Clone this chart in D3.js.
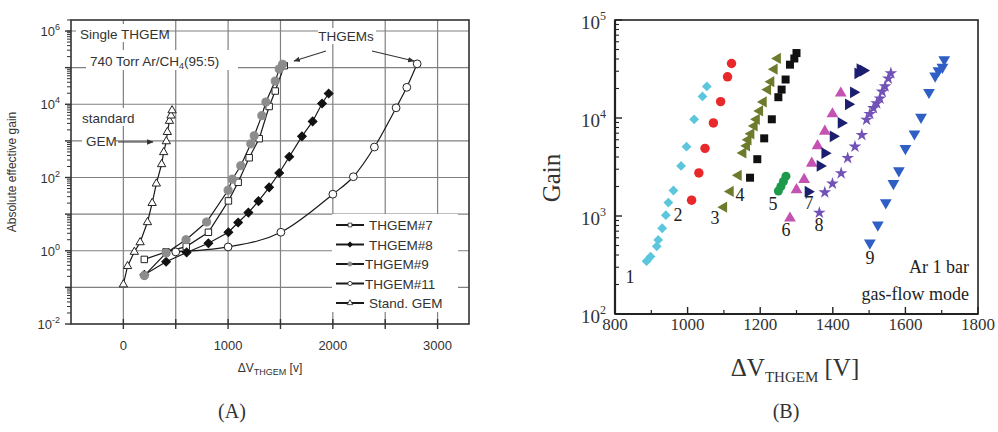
<!DOCTYPE html>
<html><head><meta charset="utf-8">
<script src="https://cdn.jsdelivr.net/npm/d3@7"></script>
<style>body{margin:0;background:#fff}svg{display:block}</style>
</head><body><svg id="c" width="998" height="432"></svg>
<script>
// ---------- Panel A data ----------
const aXTicks = [0, 1000, 2000, 3000];
const aYTickExps = [-2, 0, 2, 4, 6];
const thgem7 = [[200,0.58],[408,0.93],[600,1.3],[812,3.2],[1003,23],[1096,74],[1201,346],[1297,1150],[1392,8700],[1450,23000],[1536,113000]];
const thgem8 = [[200,0.22],[408,0.5],[604,0.9],[812,1.6],[1003,3.2],[1096,5.9],[1194,11],[1290,22.6],[1392,54],[1488,133],[1584,370],[1705,1330],[1807,3400],[1897,10500],[1960,19700]];
const thgem9 = [[200,0.21],[408,0.87],[598,2.0],[795,6.1],[1000,45],[1040,90],[1121,210],[1217,830],[1249,1380],[1322,4900],[1361,11500],[1450,43000],[1488,92000],[1520,124000]];
const thgem11 = [[500,0.93],[1000,1.27],[1504,3.2],[2000,35],[2196,105],[2397,680],[2604,8000],[2706,29000],[2805,127000]];
const stdGem = [[0,0.12],[40,0.38],[105,0.93],[160,1.7],[230,6],[275,20],[315,68],[365,230],[385,490],[410,970],[420,1740],[440,3500],[455,4900],[465,6800]];
const aLegend = ["THGEM#7","THGEM#8","THGEM#9","THGEM#11","Stand. GEM"];

// ---------- Panel B data ----------
const bXTicks = [800, 1000, 1200, 1400, 1600, 1800];
const bYTickExps = [2, 3, 4, 5];
const s1 = [[887,346],[898,385],[915,490],[919,570],[930,750],[940,1020],[947,1370],[961,1820],[982,3240],[997,5100],[1018,9700],[1041,16600],[1053,21000]];
const s2 = [[1011,1450],[1031,2750],[1048,4900],[1071,8900],[1091,14700],[1110,26300],[1121,36000]];
const s3 = [[1100,1230],[1118,1780],[1140,2600],[1153,4400],[1163,5200],[1167,6000],[1175,6900],[1184,8300],[1190,9700],[1199,11800],[1209,14600],[1221,19500],[1230,23500],[1239,31500],[1248,40500]];
const s4 = [[1172,2460],[1192,3800],[1211,6200],[1232,9700],[1250,16300],[1259,19500],[1270,24700],[1282,35000],[1294,40500],[1300,46000]];
const s5 = [[1250,1800],[1257,2000],[1264,2250],[1271,2550]];
const s6 = [[1282,950],[1300,1850],[1321,2350],[1342,3450],[1358,5200],[1378,7300],[1399,11000],[1422,17900]];
const s7 = [[1332,1770],[1365,3240],[1378,4380],[1401,6500],[1423,8900],[1443,13800],[1457,18300],[1469,28600],[1475,31500],[1484,30500]];
const s8 = [[1363,1080],[1378,1740],[1399,2140],[1423,2730],[1441,3900],[1461,5100],[1480,6700],[1493,9600],[1502,11000],[1512,12600],[1521,14100],[1530,15800],[1536,18600],[1544,21000],[1553,25300],[1560,28600]];
const s9 = [[1502,530],[1524,810],[1546,1370],[1567,2150],[1582,2900],[1600,4900],[1625,6900],[1643,10200],[1665,18300],[1682,26900],[1691,30500],[1702,33000],[1707,39500]];
const bSeriesLabels = ["1","2","3","4","5","6","7","8","9"];
const bColors = ["#5cc6dc","#e8282a","#6c7b2c","#111111","#1d9a4b","#c452b2","#1c1f70","#7352b8","#2f5ec4"];

const svg = d3.select("#c");
const sans = "'Liberation Sans', Arial, sans-serif";
const serif = "'Liberation Serif', 'Times New Roman', serif";

// ================= PANEL A =================
const ax = d3.scaleLinear().domain([-500, 3300]).range([71, 469]);
const ay = d3.scaleLog().domain([0.01, 2e6]).range([324, 20]);
const A = svg.append("g");

const gridV = d3.range(0, 3300, 500);
A.selectAll(".gv").data(gridV).join("line")
  .attr("x1", d => ax(d)).attr("x2", d => ax(d)).attr("y1", 20).attr("y2", 324)
  .attr("stroke", "#808080").attr("stroke-width", 1.2);
const gridH = d3.range(-1, 7).map(e => Math.pow(10, e));
A.selectAll(".gh").data(gridH).join("line")
  .attr("x1", 71).attr("x2", 469).attr("y1", d => ay(d)).attr("y2", d => ay(d))
  .attr("stroke", "#808080").attr("stroke-width", 1.2);

A.append("rect").attr("x", 71).attr("y", 20).attr("width", 398).attr("height", 304)
  .attr("fill", "none").attr("stroke", "#333").attr("stroke-width", 1.6);

const aMinor = [];
for (let e = -2; e < 6; e++) for (let k = 2; k <= 9; k++) aMinor.push(k * Math.pow(10, e));
for (let k = 1; k <= 2; k++) aMinor.push(k * 1e6);
A.selectAll(".ymin").data(aMinor).join("line")
  .attr("x1", 67).attr("x2", 71).attr("y1", d => ay(d)).attr("y2", d => ay(d))
  .attr("stroke", "#333").attr("stroke-width", 1);
A.selectAll(".ymaj").data(d3.range(-2, 7)).join("line")
  .attr("x1", 65).attr("x2", 71).attr("y1", d => ay(Math.pow(10, d))).attr("y2", d => ay(Math.pow(10, d)))
  .attr("stroke", "#333").attr("stroke-width", 1.4);
const aYL = A.selectAll(".ylab").data(aYTickExps).join("text")
  .attr("x", 60).attr("y", d => ay(Math.pow(10, d)) + 5)
  .attr("text-anchor", "end").attr("font-family", sans).attr("font-size", 13).attr("fill", "#333");
aYL.append("tspan").text("10");
aYL.append("tspan").attr("dy", -6).attr("font-size", 9).text(d => d);

A.selectAll(".xt").data(d3.range(0, 3300, 500)).join("line")
  .attr("x1", d => ax(d)).attr("x2", d => ax(d)).attr("y1", 319).attr("y2", 329)
  .attr("stroke", "#333").attr("stroke-width", 1.4);
A.selectAll(".xl").data(aXTicks).join("text")
  .attr("x", d => ax(d)).attr("y", 350).attr("text-anchor", "middle")
  .attr("font-family", sans).attr("font-size", 13).attr("fill", "#333").text(d => d);

const axT = A.append("text").attr("x", 270).attr("y", 372).attr("text-anchor", "middle")
  .attr("font-family", sans).attr("font-size", 12).attr("fill", "#333");
axT.append("tspan").text("ΔV");
axT.append("tspan").attr("dy", 3).attr("font-size", 9).text("THGEM");
axT.append("tspan").attr("dy", -3).text(" [v]");
A.append("text").attr("transform", "translate(16,172) rotate(-90)").attr("text-anchor", "middle")
  .attr("font-family", sans).attr("font-size", 12).attr("fill", "#333").text("Absolute effective gain");

function bgText(g, x, y, w, h) {
  g.append("rect").attr("x", x).attr("y", y).attr("width", w).attr("height", h).attr("fill", "#fff");
}
bgText(A, 76, 24, 84, 18);
bgText(A, 86, 50, 152, 20);
bgText(A, 78, 108, 58, 18);
bgText(A, 82, 132, 34, 18);
bgText(A, 318, 28, 58, 16);
A.append("text").attr("x", 80).attr("y", 39).attr("font-family", sans).attr("font-size", 13.5).attr("fill", "#333").text("Single THGEM");
const t740 = A.append("text").attr("x", 90).attr("y", 66).attr("font-family", sans).attr("font-size", 13.5).attr("fill", "#333");
t740.append("tspan").text("740 Torr Ar/CH");
t740.append("tspan").attr("dy", 3).attr("font-size", 9).text("4");
t740.append("tspan").attr("dy", -3).text("(95:5)");
A.append("text").attr("x", 82).attr("y", 123).attr("font-family", sans).attr("font-size", 13.5).attr("fill", "#333").text("standard");
A.append("text").attr("x", 86).attr("y", 146).attr("font-family", sans).attr("font-size", 13.5).attr("fill", "#333").text("GEM");
A.append("text").attr("x", 346).attr("y", 41).attr("text-anchor", "middle").attr("font-family", sans).attr("font-size", 13.5).attr("fill", "#333").text("THGEMs");

const defs = svg.append("defs");
defs.append("marker").attr("id", "ah").attr("viewBox", "0 0 10 10").attr("refX", 9).attr("refY", 5)
  .attr("markerWidth", 6).attr("markerHeight", 6).attr("orient", "auto")
  .append("path").attr("d", "M0,1 L10,5 L0,9 Z").attr("fill", "#333");
function arrow(x1, y1, x2, y2) {
  A.append("line").attr("x1", x1).attr("y1", y1).attr("x2", x2).attr("y2", y2)
    .attr("stroke", "#333").attr("stroke-width", 1.1).attr("marker-end", "url(#ah)");
}
arrow(118, 142, 153, 142);
arrow(326, 51, 294, 61);
arrow(372, 51, 414, 61);

const aLine = d3.line().x(d => ax(d[0])).y(d => ay(d[1]));
const aCurve = d3.line().x(d => ax(d[0])).y(d => ay(d[1])).curve(d3.curveMonotoneX);
const aSeries = [
  {data: thgem7, sym: d3.symbolSquare, size: 42, rot: 0, fill: "#fff", stroke: "#222", curve: aLine},
  {data: thgem11, sym: d3.symbolCircle, size: 48, rot: 0, fill: "#fff", stroke: "#222", curve: aCurve},
  {data: thgem8, sym: d3.symbolSquare, size: 38, rot: 45, fill: "#111", stroke: "#111", curve: aLine},
  {data: thgem9, sym: d3.symbolCircle, size: 52, rot: 0, fill: "#8c8c8c", stroke: "#8c8c8c", curve: aLine},
  {data: stdGem, sym: d3.symbolTriangle, size: 30, rot: 0, fill: "#fff", stroke: "#222", curve: aLine}
];
aSeries.forEach(s => {
  A.append("path").attr("d", s.curve(s.data)).attr("fill", "none").attr("stroke", "#1a1a1a").attr("stroke-width", 1.2);
});
aSeries.forEach(s => {
  A.selectAll(null).data(s.data).join("path")
    .attr("transform", d => `translate(${ax(d[0])},${ay(d[1])}) rotate(${s.rot})`)
    .attr("d", d3.symbol().type(s.sym).size(s.size))
    .attr("fill", s.fill).attr("stroke", s.stroke).attr("stroke-width", 1);
});

A.append("rect").attr("x", 332).attr("y", 214).attr("width", 126).attr("height", 98).attr("fill", "#fff");
const legSym = [
  {sym: d3.symbolSquare, rot: 0, fill: "#fff", stroke: "#222"},
  {sym: d3.symbolSquare, rot: 45, fill: "#111", stroke: "#111"},
  {sym: d3.symbolCircle, rot: 0, fill: "#8c8c8c", stroke: "#8c8c8c"},
  {sym: d3.symbolCircle, rot: 0, fill: "#fff", stroke: "#222"},
  {sym: d3.symbolTriangle, rot: 0, fill: "#fff", stroke: "#222"}
];
const leg = A.selectAll(".leg").data(aLegend).join("g")
  .attr("transform", (d, i) => `translate(336,${225 + i * 19.5})`);
leg.append("line").attr("x1", 0).attr("x2", 28).attr("stroke", "#1a1a1a").attr("stroke-width", 2);
leg.append("path").attr("transform", (d, i) => `translate(14,0) rotate(${legSym[i].rot})`)
  .attr("d", (d, i) => d3.symbol().type(legSym[i].sym).size(14)())
  .attr("fill", (d, i) => legSym[i].fill).attr("stroke", (d, i) => legSym[i].stroke).attr("stroke-width", 0.8);
leg.append("text").attr("x", (d, i) => (i === 2 || i === 3) ? 29 : 33).attr("y", 5)
  .attr("font-family", sans).attr("font-size", 13.5).attr("fill", "#333").text(d => d);

A.append("text").attr("x", 232).attr("y", 418).attr("text-anchor", "middle")
  .attr("font-family", serif).attr("font-size", 20).attr("fill", "#333").text("(A)");

// ================= PANEL B =================
const bx = d3.scaleLinear().domain([800, 1800]).range([615, 978]);
const by = d3.scaleLog().domain([100, 1e5]).range([314, 20]);
const B = svg.append("g");

B.append("rect").attr("x", 615).attr("y", 20).attr("width", 363).attr("height", 294)
  .attr("fill", "none").attr("stroke", "#222").attr("stroke-width", 1.6);
B.append("line").attr("x1", 615).attr("x2", 978).attr("y1", 314).attr("y2", 314).attr("stroke", "#222").attr("stroke-width", 2.2);
B.append("line").attr("x1", 615).attr("x2", 615).attr("y1", 20).attr("y2", 314).attr("stroke", "#222").attr("stroke-width", 2.2);

B.selectAll(".bxm").data(d3.range(900, 1800, 200)).join("line")
  .attr("x1", d => bx(d)).attr("x2", d => bx(d)).attr("y1", 314).attr("y2", 310).attr("stroke", "#222").attr("stroke-width", 1.2);
B.selectAll(".bxM").data(bXTicks).join("line")
  .attr("x1", d => bx(d)).attr("x2", d => bx(d)).attr("y1", 314).attr("y2", 307).attr("stroke", "#222").attr("stroke-width", 1.4);
B.selectAll(".bxl").data(bXTicks).join("text")
  .attr("x", d => bx(d)).attr("y", 330).attr("text-anchor", "middle")
  .attr("font-family", serif).attr("font-size", 17).attr("fill", "#333").text(d => d);

const bMinor = [];
for (let e = 2; e < 5; e++) for (let k = 2; k <= 9; k++) bMinor.push(k * Math.pow(10, e));
B.selectAll(".bym").data(bMinor).join("line")
  .attr("x1", 615).attr("x2", 619).attr("y1", d => by(d)).attr("y2", d => by(d)).attr("stroke", "#222").attr("stroke-width", 1.1);
B.selectAll(".byM").data(bYTickExps).join("line")
  .attr("x1", 615).attr("x2", 622).attr("y1", d => by(Math.pow(10, d))).attr("y2", d => by(Math.pow(10, d))).attr("stroke", "#222").attr("stroke-width", 1.4);
const bYL = B.selectAll(".byl").data(bYTickExps).join("text")
  .attr("x", 606).attr("y", d => by(Math.pow(10, d)) + 9).attr("text-anchor", "end")
  .attr("font-family", serif).attr("font-size", 19).attr("fill", "#333");
bYL.append("tspan").text("10");
bYL.append("tspan").attr("dy", -9).attr("font-size", 12).text(d => d);

B.append("text").attr("transform", "translate(560,178) rotate(-90)").attr("text-anchor", "middle")
  .attr("font-family", serif).attr("font-size", 25).attr("fill", "#333").text("Gain");
const bxT = B.append("text").attr("x", 795).attr("y", 376).attr("text-anchor", "middle")
  .attr("font-family", serif).attr("font-size", 25).attr("fill", "#333");
bxT.append("tspan").text("ΔV");
bxT.append("tspan").attr("dy", 6).attr("font-size", 15).text("THGEM");
bxT.append("tspan").attr("dy", -6).text(" [V]");

const bData = [s1, s2, s3, s4, s5, s6, s7, s8, s9];
const bShapes = [
  {sym: d3.symbolSquare, size: 48, rot: 45},
  {sym: d3.symbolCircle, size: 70, rot: 0},
  {sym: d3.symbolTriangle, size: 55, rot: -90},
  {sym: d3.symbolSquare, size: 64, rot: 0},
  {sym: d3.symbolCircle, size: 64, rot: 0},
  {sym: d3.symbolTriangle, size: 60, rot: 0},
  {sym: d3.symbolTriangle, size: 60, rot: 90},
  {sym: d3.symbolStar, size: 50, rot: 0},
  {sym: d3.symbolTriangle, size: 60, rot: 180}
];
bData.forEach((data, i) => {
  B.selectAll(null).data(data).join("path")
    .attr("transform", d => `translate(${bx(d[0])},${by(d[1])}) rotate(${bShapes[i].rot})`)
    .attr("d", d3.symbol().type(bShapes[i].sym).size(bShapes[i].size))
    .attr("fill", bColors[i]);
});

const bLabelPos = [[630,283],[678,221],[715,224],[740,201],[773,210],[786,236],[809,209],[819,231],[870,264]];
B.selectAll(".nl").data(bSeriesLabels).join("text")
  .attr("x", (d, i) => bLabelPos[i][0]).attr("y", (d, i) => bLabelPos[i][1])
  .attr("text-anchor", "middle").attr("font-family", serif).attr("font-size", 18).attr("fill", "#222").text(d => d);

B.append("text").attr("x", 969).attr("y", 273).attr("text-anchor", "end")
  .attr("font-family", serif).attr("font-size", 18).attr("fill", "#222").text("Ar 1 bar");
B.append("text").attr("x", 969).attr("y", 300).attr("text-anchor", "end")
  .attr("font-family", serif).attr("font-size", 18).attr("fill", "#222").text("gas-flow mode");

B.append("text").attr("x", 786).attr("y", 418).attr("text-anchor", "middle")
  .attr("font-family", serif).attr("font-size", 20).attr("fill", "#333").text("(B)");
</script></body></html>
